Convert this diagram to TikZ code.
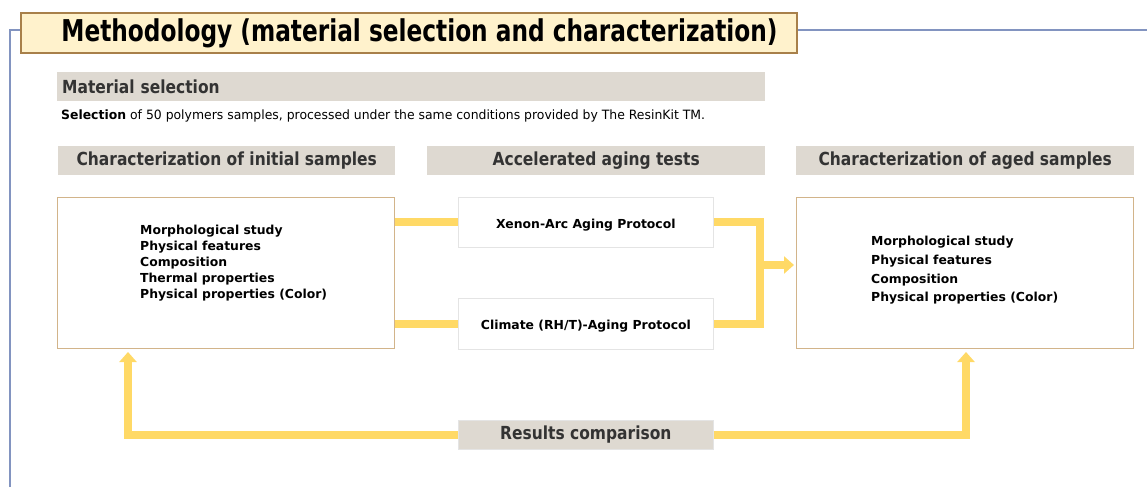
\documentclass[tikz,border=0pt]{standalone}
\usepackage{fontspec}
\setmainfont{DejaVu Sans}
\newfontfamily\tfont[FakeStretch=0.775]{DejaVu Sans}
\newfontfamily\hfont[FakeStretch=0.97]{DejaVu Sans}
\newfontfamily\hbfont[FakeStretch=0.86]{DejaVu Sans Bold}
\usetikzlibrary{arrows.meta}
\definecolor{titlefill}{HTML}{FFF2CC}
\definecolor{titledraw}{HTML}{A8804A}
\definecolor{hdrgray}{HTML}{DED9D1}
\definecolor{boxdraw}{HTML}{D2B48A}
\definecolor{protdraw}{HTML}{E4E4E4}
\definecolor{yl}{HTML}{FFD966}
\definecolor{bluel}{HTML}{8294C0}
\definecolor{txtdark}{HTML}{333333}
\tikzset{
  hdr/.style={fill=hdrgray, anchor=north west, minimum width=337pt, minimum height=29pt, inner sep=0pt, text=txtdark, font=\hbfont\fontsize{18}{18}\selectfont},
  bigbox/.style={draw=boxdraw, line width=0.9pt, fill=white, anchor=north west, minimum width=337pt, minimum height=151pt, inner sep=0pt},
  protbox/.style={draw=protdraw, line width=0.8pt, fill=white, anchor=north west, minimum width=255pt, minimum height=50pt, inner sep=0pt, text height=15pt, text depth=3pt, font=\bfseries\fontsize{12.4}{14}\selectfont, text=black},
  listtxt/.style={anchor=north west, inner sep=0pt, align=left, font=\bfseries\fontsize{12.4}{16}\selectfont, text=black},
  ylink/.style={draw=yl, line width=8pt},
  yarrow/.style={draw=yl, line width=8pt, -{Triangle[length=10pt,width=17pt]}},
  blueline/.style={draw=bluel, line width=1.1pt}
}
\begin{document}
\begin{tikzpicture}[x=1pt,y=-1pt]
\useasboundingbox (0,0) rectangle (1147,487);
% title and frame line
\node[draw=titledraw, line width=2pt, fill=titlefill, anchor=north west, minimum width=776pt, minimum height=40pt, inner sep=0pt, font=\tfont\bfseries\fontsize{30}{30}\selectfont, text=black] (title) at (20,12) {\hspace*{21pt}Methodology (material selection and characterization)};
\coordinate (bl) at (10,487);
\coordinate (tl) at (10,30);
\coordinate (tr) at (1147,30);
\draw[blueline] (bl) -- (tl) -- (tl -| title.west);
\draw[blueline] (title.east |- tr) -- (tr);
% material selection
\node[hdr, minimum width=708pt, text width=698pt, inner xsep=5pt, align=left] (matsel) at (57,72) {Material selection};
\node[anchor=west, inner sep=0pt, font=\hfont\fontsize{12.8}{14}\selectfont, text=black] (seltxt) at (61,116) {\textbf{Selection} of 50 polymers samples, processed under the same conditions provided by The ResinKit TM.};
% headers
\node[hdr] (h1) at (58,146) {Characterization of initial samples};
\node[hdr, minimum width=338pt] (h2) at (427,146) {Accelerated aging tests};
\node[hdr, minimum width=338pt] (h3) at (796,146) {Characterization of aged samples};
% boxes
\node[bigbox] (init) at (57,197) {};
\node[listtxt] (inittxt) at (140,225) {Morphological study\\Physical features\\Composition\\Thermal properties\\Physical properties (Color)};
\node[bigbox] (aged) at (796,197) {};
\node[listtxt, font=\bfseries\fontsize{12.4}{18.7}\selectfont] (agedtxt) at (871,236) {Morphological study\\Physical features\\Composition\\Physical properties (Color)};
\node[protbox] (xen) at (458,197) {Xenon-Arc Aging Protocol};
\node[protbox, minimum height=51pt] (cli) at (458,298) {Climate (RH/T)-Aging Protocol};
\node[fill=hdrgray, draw=protdraw, line width=0.6pt, anchor=north west, minimum width=255pt, minimum height=29pt, inner sep=0pt, text=txtdark, font=\hbfont\fontsize{18}{18}\selectfont] (res) at (458,420) {Results comparison};
% connectors
\coordinate (j) at (760,265);
\coordinate (la) at (128,352);
\coordinate (ra) at (966,352);
\draw[ylink] (init.east |- xen.west) -- (xen.west);
\draw[ylink] (init.east |- cli.west) -- (cli.west);
\draw[ylink] (xen.east) -| (j) |- (cli.east);
\draw[yarrow] (j) -- ([xshift=-2pt]aged.west |- j);
\draw[yarrow] (res.west) -| (la);
\draw[yarrow] (res.east) -| (ra);
\end{tikzpicture}
\end{document}
